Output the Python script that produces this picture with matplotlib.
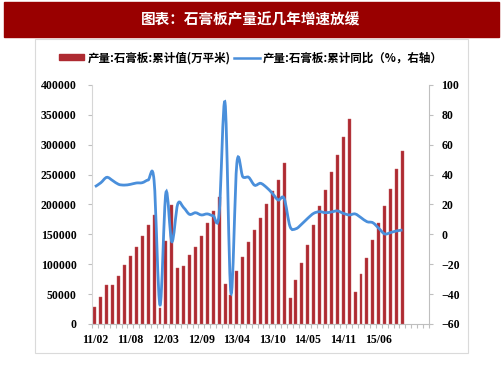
import numpy as np
import matplotlib
matplotlib.use("Agg")
import matplotlib.pyplot as plt
from matplotlib.path import Path
from matplotlib.patches import PathPatch, Rectangle, Patch
from matplotlib.lines import Line2D

plt.rcParams['font.family'] = ['Noto Sans CJK SC', 'DejaVu Sans']

# monthly data, Feb..Dec each year (Jan merged into Feb)
months = ["11/02", "11/03", "11/04", "11/05", "11/06", "11/07", "11/08", "11/09", "11/10", "11/11", "11/12",
          "12/02", "12/03", "12/04", "12/05", "12/06", "12/07", "12/08", "12/09", "12/10", "12/11", "12/12",
          "13/02", "13/03", "13/04", "13/05", "13/06", "13/07", "13/08", "13/09", "13/10", "13/11", "13/12",
          "14/02", "14/03", "14/04", "14/05", "14/06", "14/07", "14/08", "14/09", "14/10", "14/11", "14/12",
          "15/02", "15/03", "15/04", "15/05", "15/06", "15/07", "15/08", "15/09", "15/10"]

cum_output = [28000, 45700, 64700, 64700, 80300, 98200, 114400, 129400, 146700, 165100, 182400,
              26200, 139400, 199200, 93200, 97600, 115500, 128900, 147800, 168500, 189100, 212000,
              67500, 48500, 89500, 112700, 137800, 156500, 178200, 200300, 222000, 241000, 270000,
              43000, 73100, 102100, 132200, 165700, 196900, 224300, 253800, 283400, 313000, 343600,
              53000, 84200, 111000, 141100, 169000, 196900, 226500, 258900, 289500]

yoy = [31.9, 34.6, 38.2, 36.0, 33.5, 33.0, 33.5, 34.4, 34.6, 36.4, 36.0,
       -47.3, 27.9, -4.9, 20.3, 17.9, 13.4, 14.5, 13.0, 13.7, 12.5, 13.4,
       88.2, -39.4, 47.6, 38.6, 38.2, 32.9, 34.2, 31.5, 27.5, 23.0, 24.1,
       5.2, 3.8, 7.0, 10.8, 14.1, 15.2, 14.5, 15.0, 15.7, 14.1, 13.0,
       13.7, 11.2, 8.5, 7.8, 4.1, 0.3, 1.2, 2.3, 2.9]

tick_every = 6
n_slots = 57

bar_color = "#AE2A31"
line_color = "#4A8FDB"
axis_gray = "#BFBFBF"
tick_font = dict(family="Liberation Serif", weight="bold", size=8.5)

fig = plt.figure(figsize=(5.03, 3.78), dpi=100)

# title banner + light frame
fig.patches.append(Rectangle((4 / 503, 1 - 37 / 378), 495 / 503, 35 / 378,
                             transform=fig.transFigure, color="#990000", zorder=0))
fig.text(251 / 503, 1 - 19 / 378, "图表：石膏板产量近几年增速放缓", color="white",
         ha="center", va="center", fontsize=10.5, fontweight="bold")
fig.patches.append(Rectangle((35 / 503, 1 - 353 / 378), 433 / 503, 314 / 378,
                             transform=fig.transFigure, fill=False, edgecolor="#DADADA", lw=0.8))

ax = fig.add_axes([92 / 503, 1 - 324 / 378, 337 / 503, 239 / 378])
x = np.arange(len(months))
ax.bar(x, cum_output, width=0.5, color=bar_color, edgecolor="#C45A5F", linewidth=0.3, zorder=2)
ax.set_xlim(-0.5, n_slots - 0.5)
ax.set_ylim(0, 400000)
ax.set_yticks(np.arange(0, 400001, 50000))
ax.set_xticks(x[::tick_every])
ax.set_xticklabels(months[::tick_every])
ax.set_xticks(np.arange(-0.5, n_slots, 1), minor=True)
ax.tick_params(axis="x", which="major", length=0, pad=7)
ax.tick_params(axis="x", which="minor", length=3, color=axis_gray, width=0.8)
ax.tick_params(axis="y", length=3, color=axis_gray, pad=8)
for lab in ax.get_xticklabels() + ax.get_yticklabels():
    lab.set_fontproperties(matplotlib.font_manager.FontProperties(**tick_font))
for s in ["top", "right"]:
    ax.spines[s].set_visible(False)
ax.spines["left"].set_color("#D6D6D6")
ax.spines["bottom"].set_color(axis_gray)

ax2 = ax.twinx()
ax2.set_ylim(-60, 100)
ax2.set_yticks(np.arange(-60, 101, 20))
ax2.tick_params(axis="y", length=3, color=axis_gray, pad=6)
for lab in ax2.get_yticklabels():
    lab.set_fontproperties(matplotlib.font_manager.FontProperties(**tick_font))
for s in ["top", "left", "bottom"]:
    ax2.spines[s].set_visible(False)
ax2.spines["right"].set_color(axis_gray)

# smooth line drawn as bezier segments through the monthly values
pts = np.column_stack([x, yoy]).astype(float)
verts = [pts[0]]
codes = [Path.MOVETO]
for i in range(len(pts) - 1):
    p0 = pts[max(i - 1, 0)]
    p1 = pts[i]
    p2 = pts[i + 1]
    p3 = pts[min(i + 2, len(pts) - 1)]
    verts += [p1 + (p2 - p0) / 6, p2 - (p3 - p1) / 6, p2]
    codes += [Path.CURVE4] * 3
ax2.add_patch(PathPatch(Path(verts, codes), fill=False, edgecolor=line_color, lw=2, zorder=3))

handles = [Patch(facecolor=bar_color, edgecolor=bar_color),
           Line2D([0], [0], color=line_color, lw=1.8)]
labels = ["产量:石膏板:累计值(万平米)", "产量:石膏板:累计同比（%，右轴）"]
fig.legend(handles, labels, loc="center", bbox_to_anchor=(251 / 503, 1 - 58 / 378), ncol=2,
           frameon=False, prop=dict(family=["Noto Sans CJK SC"], weight="bold", size=8.3),
           handlelength=2.2, handleheight=0.45, handletextpad=0.3, columnspacing=0.3)

fig.savefig("out.png", dpi=100)
